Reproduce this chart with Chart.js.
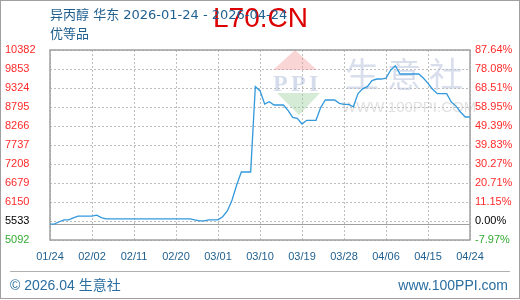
<!DOCTYPE html>
<html>
<head>
<meta charset="utf-8">
<script src="https://cdn.jsdelivr.net/npm/chart.js@4.4.1/dist/chart.umd.min.js"></script>
<style>
	body { margin: 0; background: #fff; }
	canvas { display: block; }
</style>
</head>
<body>
<canvas id="canvas" width="520" height="300"></canvas>
<script type="text/javascript">

// daily price, 2026-01-24 .. 2026-04-24
var prices = [
	5533, 5540, 5600, 5650, 5650, 5710, 5756, 5756, 5756, 5756,
	5784, 5717, 5681, 5681, 5681, 5681, 5681, 5681, 5681, 5681,
	5681, 5681, 5681, 5681, 5681, 5681, 5681, 5681, 5681, 5681,
	5681, 5653, 5625, 5625, 5653, 5653, 5653, 5740, 5900, 6200,
	6623, 6985, 6985, 6985, 9360, 9250, 8878, 8942, 8850, 8850,
	8850, 8700, 8508, 8480, 8321, 8424, 8424, 8424, 8780, 8990,
	8990, 8990, 8898, 8870, 8870, 8803, 9170, 9300, 9360, 9530,
	9574, 9574, 9600, 9820, 9945, 9714, 9714, 9714, 9714, 9714,
	9600, 9455, 9290, 9165, 9165, 9165, 8935, 8820, 8650, 8516,
	8516
];
var xTickLabels = ['01/24','02/02','02/11','02/20','03/01','03/10','03/19','03/28','04/06','04/15','04/24'];
var yTickValues = [5092, 5621, 6150, 6679, 7208, 7737, 8266, 8795, 9324, 9853, 10382];
var yTickLabels = ['5092','5533','6150','6679','7208','7737','8266','8795','9324','9853','10382'];
var pctTickLabels = ['-7.97%','0.00%','11.15%','20.71%','30.27%','39.83%','49.39%','58.95%','68.51%','78.08%','87.64%'];
var baseValue = 5533;

var daysPerTick = (prices.length - 1) / (xTickLabels.length - 1);
var labelFont = { family: "'Liberation Sans', Arial, sans-serif", size: 11 };

function tickColor(ctx) {
	if (ctx.index == 0) return '#33aa33';
	if (ctx.index == 1) return '#000000';
	return '#ff2a2a';
}

var decor = {
	id: 'decor',
	beforeDatasetsDraw: function(chart) {
		var c = chart.ctx, a = chart.chartArea;
		var xs = chart.scales.x, ys = chart.scales.y;
		c.save();
		// dashed grid on the library's ticks
		c.strokeStyle = '#bdbdbd';
		c.lineWidth = 1;
		c.setLineDash([2, 2]);
		xs.ticks.forEach(function(t) {
			var px = Math.round(xs.getPixelForValue(t.value)) + 0.5;
			c.beginPath(); c.moveTo(px, a.top); c.lineTo(px, a.bottom); c.stroke();
		});
		ys.ticks.forEach(function(t) {
			var py = Math.round(ys.getPixelForValue(t.value)) + 0.5;
			c.beginPath(); c.moveTo(a.left, py); c.lineTo(a.right, py); c.stroke();
		});
		c.setLineDash([]);
		// watermark
		c.fillStyle = 'rgba(240,150,150,0.4)';
		c.beginPath(); c.moveTo(295, 50); c.lineTo(317, 70); c.lineTo(273, 70); c.closePath(); c.fill();
		c.fillStyle = 'rgba(150,205,150,0.4)';
		c.beginPath(); c.moveTo(277, 93); c.lineTo(320, 93); c.lineTo(299, 115); c.closePath(); c.fill();
		c.fillStyle = 'rgba(170,185,215,0.5)';
		c.font = "bold 24px 'Liberation Serif', serif";
		c.fillText('P', 273, 91);
		c.fillText('P', 291, 91);
		c.fillText('I', 309, 91);
		c.font = "34px 'Noto Sans CJK SC'";
		c.fillStyle = 'rgba(185,195,220,0.55)';
		c.fillText('生', 345, 87);
		c.fillText('意', 387, 87);
		c.fillText('社', 429, 87);
		c.font = "15px 'Liberation Sans', Arial, sans-serif";
		c.fillStyle = 'rgba(195,195,195,0.5)';
		c.fillText('WWW.100PPI.COM', 342, 112);
		// 0% line
		var y0 = Math.round(ys.getPixelForValue(baseValue)) + 0.5;
		c.strokeStyle = '#a0a0a0';
		c.beginPath(); c.moveTo(a.left, y0); c.lineTo(a.right, y0); c.stroke();
		// frame
		c.lineWidth = 1.5;
		c.strokeRect(a.left, a.top, a.right - a.left, a.bottom - a.top);
		c.restore();
	},
	afterDraw: function(chart) {
		var c = chart.ctx;
		c.save();
		c.fillStyle = '#dd0000';
		c.font = "28px 'Liberation Sans', Arial, sans-serif";
		c.fillText('L70.CN', 213, 27);
		c.fillStyle = '#1f5f8f';
		c.font = "13px 'DejaVu Sans', 'Noto Sans CJK SC', sans-serif";
		c.fillText('异丙醇 华东 2026-01-24 - 2026-04-24', 50, 19);
		c.fillText('优等品', 50, 38);
		// footer
		c.strokeStyle = '#b0b0b0';
		c.lineWidth = 1;
		c.beginPath(); c.moveTo(10, 271.5); c.lineTo(510, 271.5); c.stroke();
		c.fillStyle = '#2a6ea0';
		c.font = "14px 'Liberation Sans', 'Noto Sans CJK SC', sans-serif";
		c.fillText('© 2026.04 生意社', 10, 290);
		c.textAlign = 'right';
		c.fillText('www.100PPI.com', 508, 290);
		// outer border
		c.strokeStyle = '#a0a0a0';
		c.strokeRect(0.5, 0.5, 519, 298);
		c.restore();
	}
};

var ctx = document.getElementById('canvas').getContext('2d');
var chart = new Chart(ctx, {
	type: 'line',
	data: {
		datasets: [{
			data: prices.map(function(v, i) { return { x: i, y: v }; }),
			borderColor: '#3399dd',
			borderWidth: 1.3,
			pointRadius: 0,
			tension: 0,
			fill: false
		}]
	},
	options: {
		responsive: false,
		animation: false,
		events: [],
		layout: { padding: { top: 50, left: 5, right: 0, bottom: 0 } },
		plugins: { legend: { display: false }, tooltip: { enabled: false } },
		scales: {
			x: {
				type: 'linear',
				min: 0,
				max: prices.length - 1,
				afterBuildTicks: function(scale) {
					scale.ticks = xTickLabels.map(function(l, i) { return { value: i * daysPerTick }; });
				},
				afterFit: function(scale) { scale.height = 60; },
				ticks: {
					callback: function(v, i) { return xTickLabels[i]; },
					color: '#1f5f8f',
					font: labelFont,
					padding: 10,
					maxRotation: 0
				},
				grid: { display: false, drawTicks: false },
				border: { display: false }
			},
			y: {
				position: 'left',
				min: yTickValues[0],
				max: yTickValues[yTickValues.length - 1],
				afterBuildTicks: function(scale) {
					scale.ticks = yTickValues.map(function(v) { return { value: v }; });
				},
				afterFit: function(scale) { scale.width = 45; },
				ticks: {
					callback: function(v, i) { return yTickLabels[i]; },
					color: tickColor,
					font: labelFont,
					crossAlign: 'far',
					padding: 4
				},
				grid: { display: false, drawTicks: false },
				border: { display: false }
			},
			y2: {
				position: 'right',
				min: yTickValues[0],
				max: yTickValues[yTickValues.length - 1],
				afterBuildTicks: function(scale) {
					scale.ticks = yTickValues.map(function(v) { return { value: v }; });
				},
				afterFit: function(scale) { scale.width = 50; },
				ticks: {
					callback: function(v, i) { return pctTickLabels[i]; },
					color: tickColor,
					font: labelFont,
					crossAlign: 'near',
					padding: 5
				},
				grid: { display: false, drawTicks: false },
				border: { display: false }
			}
		}
	},
	plugins: [decor]
});

</script>
</body>
</html>
